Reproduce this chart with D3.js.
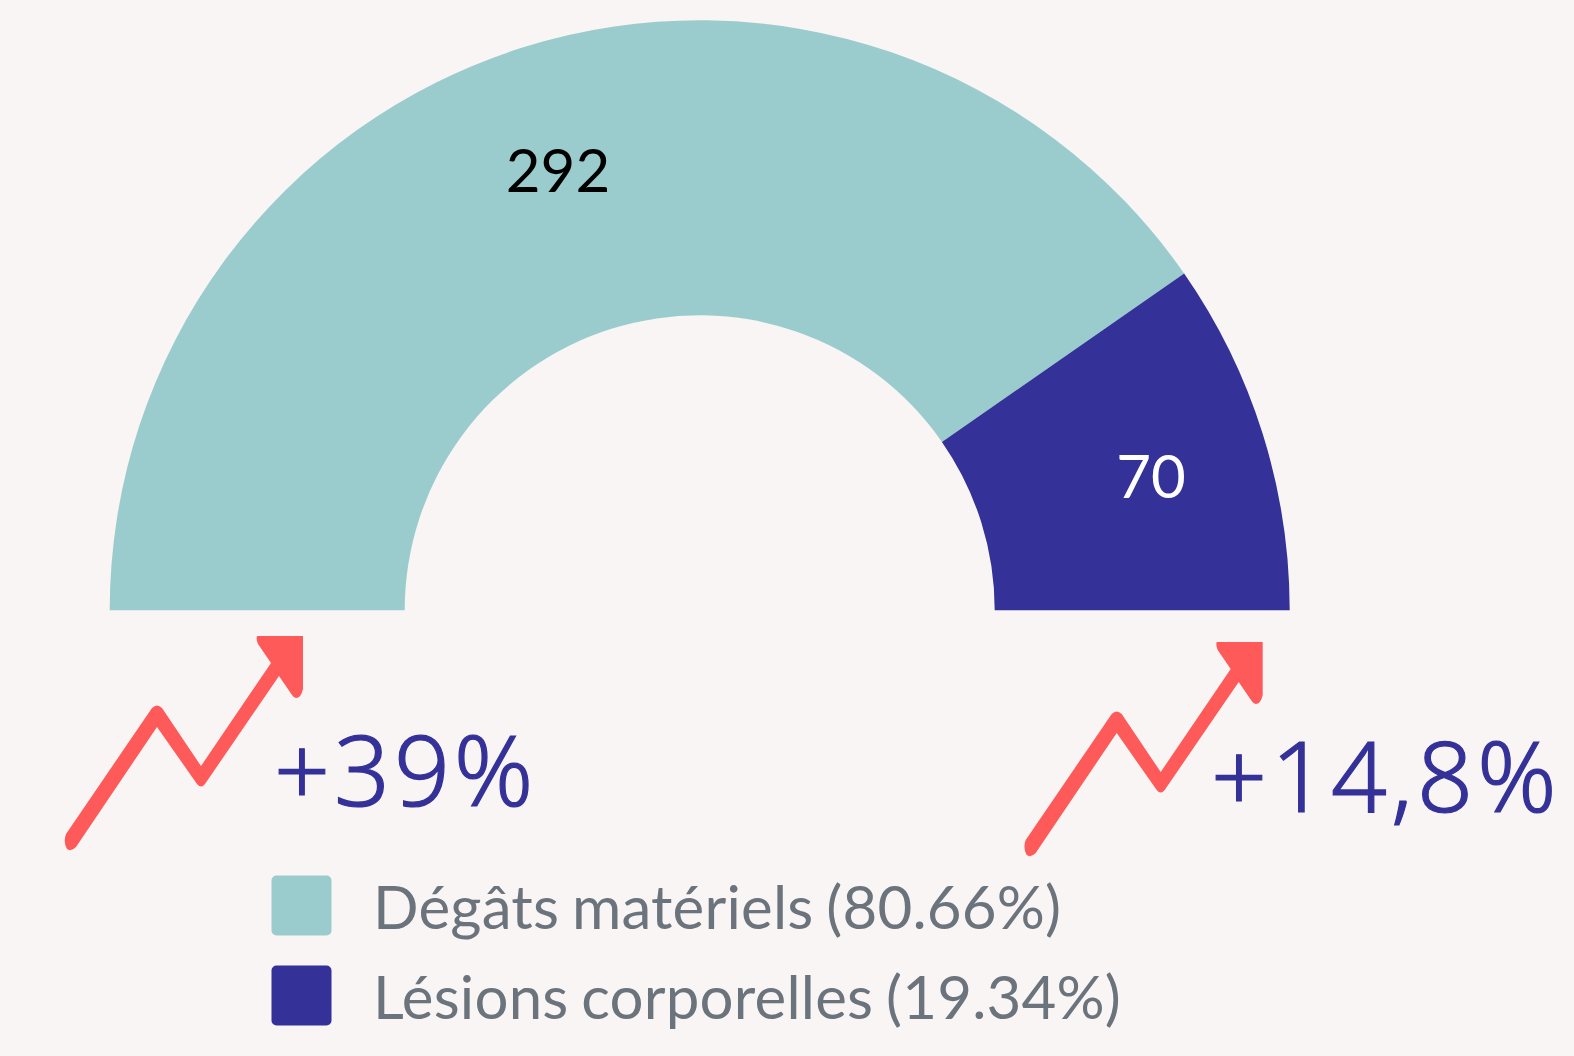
<!DOCTYPE html>
<html><head><meta charset="utf-8">
<script src="https://cdn.jsdelivr.net/npm/d3@7"></script>
<style>html,body{margin:0;padding:0;background:#f9f5f4;overflow:hidden}svg{display:block}</style>
</head><body><svg id="c" width="1574" height="1056"></svg>
<script>
const categories = ["Dégâts matériels (80.66%)", "Lésions corporelles (19.34%)"];
const values = [292, 70];
const valueLabels = ["292", "70"];
const changes = ["+39%", "+14,8%"];
const colors = ["#9bcccd", "#343198"];
const labelColors = ["#000000", "#ffffff"];

const svg = d3.select("#c");
const W = 1574, H = 1056, cx = 699.7, cy = 610.3, R = 590, r = 295;
const g = svg.append("g").attr("transform", `translate(${cx},${cy})`);
const pie = d3.pie().sort(null).startAngle(-Math.PI/2).endAngle(Math.PI/2);
const arc = d3.arc().innerRadius(r).outerRadius(R);
const arcs = pie(values);
g.selectAll("path").data(arcs).join("path").attr("d", arc).attr("fill", (d,i)=>colors[i]);

const labelPos = [[558, 192], [1151, 498]];
svg.selectAll("text.val").data(valueLabels).join("text").attr("class","val")
  .attr("x",(d,i)=>labelPos[i][0]).attr("y",(d,i)=>labelPos[i][1])
  .attr("text-anchor","middle").attr("font-family","Lato").attr("font-size",60)
  .attr("fill",(d,i)=>labelColors[i]).text(d=>d);

const arrow = "M66 834 L152 708 Q157 703 162 708 L201 766 L271 663 L258 644 Q256 640 257 636 L303 636 L303 689 Q301 698 296 698 Q294 698 292 695 L279 676 L205 784 Q201 789 197 784 L157 727 L76 847 Q71 852 67 849 Q63 842 66 834 Z";
const arrowOff = [[0,0],[959.7,6]];
svg.selectAll("path.arrow").data(arrowOff).join("path").attr("class","arrow")
  .attr("d",arrow).attr("fill","#ff5a5a").attr("transform",d=>`translate(${d[0]},${d[1]})`);

const changePos = [[274, 806], [1211, 812]];
svg.selectAll("text.chg").data(changes).join("text").attr("class","chg")
  .attr("x",(d,i)=>changePos[i][0]).attr("y",(d,i)=>changePos[i][1])
  .attr("font-family","'Noto Sans'").attr("font-weight",300).attr("font-size",98)
  .attr("letter-spacing",4).attr("stroke","#343198").attr("stroke-width",1.2)
  .attr("fill","#343198").text(d=>d);

const legY = [875.5, 965.5];
svg.selectAll("rect.leg").data(categories).join("rect").attr("class","leg")
  .attr("x",271.5).attr("y",(d,i)=>legY[i]).attr("width",60).attr("height",60).attr("rx",5)
  .attr("fill",(d,i)=>colors[i]);
svg.selectAll("text.leg").data(categories).join("text").attr("class","leg")
  .attr("x",373).attr("y",(d,i)=>legY[i]+53)
  .attr("font-family","Lato").attr("font-weight",400).attr("font-size",60)
  .attr("letter-spacing",0.19).attr("word-spacing",-2.8)
  .attr("fill","#6b747c").text(d=>d);
</script></body></html>
